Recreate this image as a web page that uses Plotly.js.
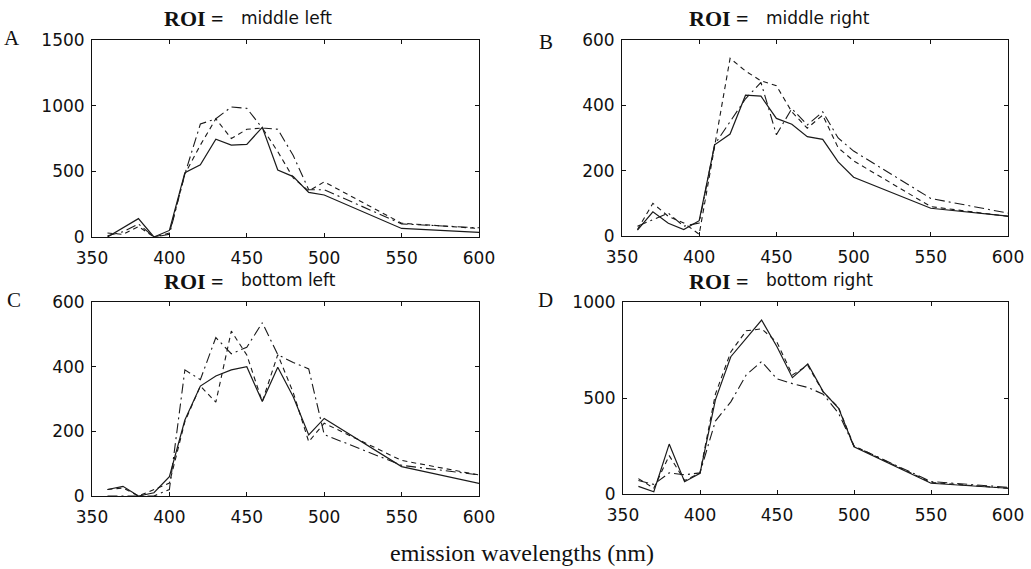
<!DOCTYPE html>
<html>
<head>
<meta charset="utf-8">
<script src="https://cdn.plot.ly/plotly-3.0.1.min.js"></script>
<style>html,body{margin:0;padding:0;background:#fff;}#chart{width:1031px;height:569px;}</style>
</head>
<body>
<div id="chart"></div>
<script>
// emission wavelengths (nm)
const wavelengths = [360, 370, 380, 390, 400, 410, 420, 430, 440, 450, 460, 470, 480, 490, 500, 550, 600];
const xTicks = [350, 400, 450, 500, 550, 600];

// A: ROI = middle left
const aSolid   = [0, 70, 140, 0, 50, 490, 550, 745, 700, 705, 835, 510, 460, 340, 320, 65, 35];
const aDashed  = [30, 20, 80, 0, 30, 480, 700, 900, 750, 820, 830, 650, 450, 350, 420, 105, 65];
const aDashDot = [10, 40, 100, 0, 20, 480, 860, 900, 990, 980, 830, 820, 620, 360, 360, 100, 70];

// B: ROI = middle right
const bSolid   = [18, 74, 39, 20, 47, 279, 312, 431, 428, 360, 342, 304, 296, 227, 180, 85, 61];
const bDashed  = [20, 100, 60, 40, 5, 270, 544, 505, 475, 460, 380, 330, 370, 270, 230, 90, 60];
const bDashDot = [30, 50, 70, 30, 40, 280, 350, 420, 470, 310, 390, 340, 380, 300, 260, 115, 70];

// C: ROI = bottom left
const cSolid   = [20, 30, 0, 10, 60, 235, 340, 371, 390, 400, 292, 398, 307, 189, 240, 91, 39];
const cDashed  = [20, 25, 0, 20, 40, 230, 340, 290, 510, 436, 292, 437, 320, 168, 225, 110, 65];
const cDashDot = [0, 0, 0, 0, 20, 390, 360, 490, 440, 460, 536, 437, 413, 393, 190, 95, 65];

// D: ROI = bottom right
const dSolid   = [40, 12, 260, 64, 108, 490, 715, 811, 906, 767, 606, 677, 533, 446, 246, 56, 30];
const dDashed  = [80, 30, 200, 70, 110, 520, 740, 850, 860, 790, 620, 670, 530, 450, 250, 60, 30];
const dDashDot = [70, 50, 110, 100, 110, 380, 480, 620, 690, 600, 575, 555, 520, 420, 250, 65, 35];

const panels = [
  {letter: 'A', roi: 'middle left',  s: aSolid, d: aDashed, dd: aDashDot, yr: [0, 1500], yt: [0, 500, 1000, 1500]},
  {letter: 'B', roi: 'middle right', s: bSolid, d: bDashed, dd: bDashDot, yr: [0, 600],  yt: [0, 200, 400, 600]},
  {letter: 'C', roi: 'bottom left',  s: cSolid, d: cDashed, dd: cDashDot, yr: [0, 600],  yt: [0, 200, 400, 600]},
  {letter: 'D', roi: 'bottom right', s: dSolid, d: dDashed, dd: dDashDot, yr: [0, 1000], yt: [0, 500, 1000]}
];

const W = 1031, H = 569;
// pixel boxes of each plot area [left, right, top, bottom]
const boxes = [[92, 479, 40, 237], [622, 1008, 40, 236], [92, 479, 302, 496], [623, 1008, 302, 494]];
const letterPos = [[12, 38], [546, 42], [14, 300], [545, 300]];
const roiRight = [226, 751, 226, 751];
const titleY = [19, 19, 281, 281];

const lineColor = '#1a1a1a';
const tickFont = {family: 'DejaVu Sans', size: 17, color: '#111'};
const data = [];
const layout = {
  width: W, height: H,
  margin: {l: 0, r: 0, t: 0, b: 0},
  paper_bgcolor: '#fff', plot_bgcolor: '#fff',
  showlegend: false,
  annotations: []
};

panels.forEach((p, i) => {
  const n = i + 1;
  const xa = 'x' + (n === 1 ? '' : n), ya = 'y' + (n === 1 ? '' : n);
  const styles = [
    {y: p.s, dash: 'solid', w: 1.2},
    {y: p.d, dash: '5px,4px', w: 1.1},
    {y: p.dd, dash: '10px,4px,2px,4px', w: 1.1}
  ];
  styles.forEach(st => {
    data.push({
      x: wavelengths, y: st.y, type: 'scatter', mode: 'lines',
      xaxis: xa, yaxis: ya,
      line: {color: lineColor, width: st.w, dash: st.dash},
      hoverinfo: 'skip'
    });
  });
  const b = boxes[i];
  const axCommon = {
    showgrid: false, zeroline: false, showline: true, linecolor: '#111', linewidth: 1,
    mirror: 'ticks', ticks: 'inside', ticklen: 4, tickcolor: '#111', tickwidth: 1,
    tickfont: tickFont, fixedrange: true
  };
  layout['xaxis' + (n === 1 ? '' : n)] = Object.assign({}, axCommon, {
    domain: [b[0] / W, b[1] / W], anchor: ya, range: [350, 600],
    tickmode: 'array', tickvals: xTicks, ticktext: xTicks.map(String), ticklabelstandoff: 6
  });
  layout['yaxis' + (n === 1 ? '' : n)] = Object.assign({}, axCommon, {
    domain: [1 - b[3] / H, 1 - b[2] / H], anchor: xa, range: p.yr,
    tickmode: 'array', tickvals: p.yt, ticktext: p.yt.map(String), ticklabelstandoff: 3
  });
  // panel letter
  layout.annotations.push({
    text: p.letter, xref: 'paper', yref: 'paper',
    x: letterPos[i][0] / W, y: 1 - letterPos[i][1] / H, xanchor: 'center', yanchor: 'middle',
    showarrow: false, font: {family: 'Liberation Serif', size: 21, color: '#111'}
  });
  // "ROI =" part of title
  layout.annotations.push({
    text: 'ROI =', xref: 'paper', yref: 'paper',
    x: roiRight[i] / W, y: 1 - titleY[i] / H, xanchor: 'right', yanchor: 'middle',
    showarrow: false, font: {family: 'Liberation Serif', size: 22, color: '#111', weight: 'bold'}
  });
  layout.annotations.push({
    text: p.roi, xref: 'paper', yref: 'paper',
    x: (roiRight[i] + 13) / W, y: 1 - (titleY[i] - 1) / H, xanchor: 'left', yanchor: 'middle',
    showarrow: false, font: {family: 'DejaVu Sans', size: 17, color: '#111'}
  });
});

layout.annotations.push({
  text: 'emission wavelengths (nm)', xref: 'paper', yref: 'paper',
  x: 522 / W, y: 1 - 553 / H, xanchor: 'center', yanchor: 'middle',
  showarrow: false, font: {family: 'Liberation Serif', size: 24, color: '#111'}
});

Plotly.newPlot('chart', data, layout, {staticPlot: true, displayModeBar: false});
</script>
</body>
</html>
